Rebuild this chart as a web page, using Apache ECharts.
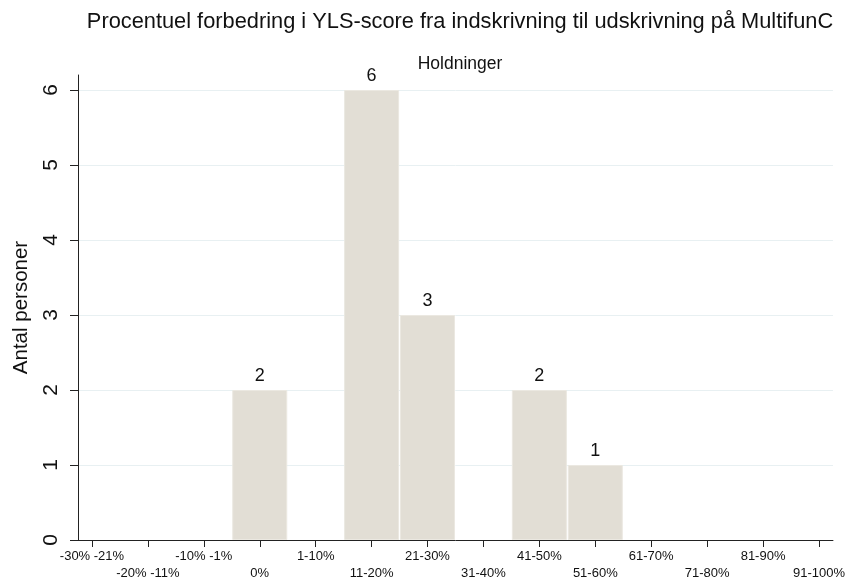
<!DOCTYPE html>
<html>
<head>
<meta charset="utf-8">
<script src="https://cdn.jsdelivr.net/npm/echarts@6/dist/echarts.min.js"></script>
<style>
  html, body { margin: 0; padding: 0; background: #fff; }
  #chart { width: 848px; height: 582px; }
</style>
</head>
<body>
<div id="chart"></div>
<script>
// bins of percentage improvement
const categories = ['-30% -21%', '-20% -11%', '-10% -1%', '0%', '1-10%', '11-20%', '21-30%',
  '31-40%', '41-50%', '51-60%', '61-70%', '71-80%', '81-90%', '91-100%'];
const counts = [0, 0, 0, 2, 0, 6, 3, 0, 2, 1, 0, 0, 0, 0];
const yTicks = [0, 1, 2, 3, 4, 5, 6];

const binIdx = categories.map((c, i) => i);
const evenIdx = binIdx.filter(i => i % 2 === 0);
const oddIdx = binIdx.filter(i => i % 2 === 1);
const barData = [];
counts.forEach((v, i) => { if (v > 0) barData.push([i, v]); });

const font = 'Liberation Sans, Arial, sans-serif';

let chart = echarts.init(document.getElementById('chart'));

// staggered labels: two overlaid bottom axes, one per row
function labelAxis(values, margin, showLine) {
  return {
    type: 'value',
    position: 'bottom',
    min: -0.25,
    max: 13.25,
    splitLine: { show: false },
    axisLine: { show: showLine, onZero: false, lineStyle: { color: '#222', width: 1 } },
    axisTick: { show: showLine, customValues: binIdx, length: 7, lineStyle: { color: '#222' } },
    axisLabel: {
      customValues: values,
      showMinLabel: true,
      showMaxLabel: true,
      color: '#111',
      fontSize: 13,
      margin: margin,
      formatter: v => categories[Math.round(v)]
    }
  };
}

const option = {
  backgroundColor: '#fff',
  animation: false,
  textStyle: { fontFamily: font },
  title: [
    {
      text: 'Procentuel forbedring i YLS-score fra indskrivning til udskrivning på MultifunC',
      left: 455, top: 6, textAlign: 'center',
      textStyle: { fontFamily: font, fontSize: 21.8, fontWeight: 'normal', color: '#111' }
    },
    {
      text: 'Holdninger',
      left: 455, top: 50, textAlign: 'center',
      textStyle: { fontFamily: font, fontSize: 17.5, fontWeight: 'normal', color: '#111' }
    }
  ],
  grid: { left: 78, right: 14, top: 75, bottom: 42 },
  xAxis: [labelAxis(evenIdx, 10, true), labelAxis(oddIdx, 27, false)],
  yAxis: {
    type: 'value',
    min: 0,
    max: 6.2,
    name: 'Antal personer',
    nameLocation: 'middle',
    nameGap: 46,
    nameRotate: 90,
    nameTextStyle: { fontSize: 20.5, color: '#111' },
    axisLine: { show: true, onZero: false, lineStyle: { color: '#222', width: 1 } },
    axisTick: { show: true, customValues: yTicks, length: 8, lineStyle: { color: '#222' } },
    axisLabel: { customValues: yTicks, showMinLabel: true, rotate: 90, fontSize: 21, color: '#111', margin: 16 },
    splitLine: { show: true, lineStyle: { color: '#e8f0f2', width: 1 } }
  },
  series: [
    {
      type: 'bar',
      xAxisIndex: 0,
      data: barData,
      barWidth: 55,
      itemStyle: { color: '#e2ded5', borderColor: '#ebe8e1', borderWidth: 1 },
      label: { show: true, position: 'top', distance: 5, fontSize: 18, color: '#111' }
    }
  ]
};

chart.setOption(option);
</script>
</body>
</html>
